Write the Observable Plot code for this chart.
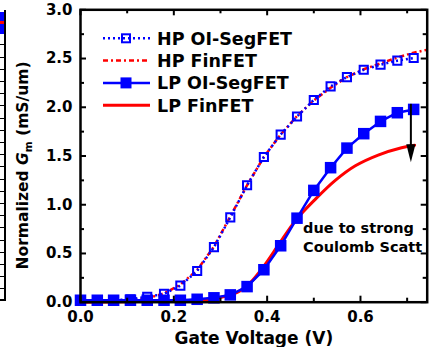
<!DOCTYPE html>
<html><head><meta charset="utf-8">
<script src="https://cdn.jsdelivr.net/npm/d3@7"></script>
<script src="https://cdn.jsdelivr.net/npm/@observablehq/plot@0.6"></script>
<style>
body{margin:0;background:#fff;}
#wrap{position:relative;width:432px;height:347px;overflow:hidden;background:#fff;}
#wrap svg{position:absolute;left:0;top:0;}
#nb{position:absolute;left:0;top:10px;width:4px;height:289px;border-right:2px solid #000;border-bottom:2px solid #000;
 background:repeating-linear-gradient(to bottom,transparent 0 10px,#000 10px 11px,transparent 11px 12.2px);}
#nbc{position:absolute;left:0;top:12px;width:4px;height:22px;background:linear-gradient(to bottom,#0000ff 0 40%,#ff0000 40% 55%,#0000ff 55% 100%);}
</style></head><body><div id="wrap"><div id="nb"></div><div id="nbc"></div></div>
<script>
// ---- data ----
const gateV = [0, 0.036, 0.071, 0.107, 0.143, 0.179, 0.214, 0.25, 0.286, 0.321, 0.357, 0.393, 0.429, 0.464, 0.5, 0.536, 0.571, 0.607, 0.643, 0.679, 0.714];
const hpSeg = [0.02, 0.02, 0.02, 0.03, 0.055, 0.085, 0.17, 0.32, 0.565, 0.87, 1.20, 1.49, 1.72, 1.905, 2.075, 2.215, 2.31, 2.385, 2.437, 2.478, 2.505];
const hpFinV = [0, 0.036, 0.071, 0.107, 0.143, 0.179, 0.214, 0.25, 0.286, 0.321, 0.357, 0.393, 0.429, 0.464, 0.5, 0.536, 0.571, 0.607, 0.643, 0.679, 0.714, 0.743];
const hpFin = [0.01, 0.01, 0.01, 0.02, 0.04, 0.09, 0.18, 0.33, 0.57, 0.88, 1.20, 1.49, 1.72, 1.91, 2.07, 2.20, 2.31, 2.39, 2.45, 2.51, 2.56, 2.59];
const lpSeg = [0.02, 0.02, 0.02, 0.02, 0.02, 0.02, 0.02, 0.03, 0.045, 0.075, 0.16, 0.333, 0.579, 0.862, 1.147, 1.38, 1.581, 1.729, 1.855, 1.944, 1.978];
const lpFinV = [0, 0.1, 0.2, 0.25, 0.286, 0.336, 0.364, 0.393, 0.426, 0.461, 0.504, 0.546, 0.589, 0.638, 0.688, 0.716];
const lpFin = [0, 0.005, 0.01, 0.015, 0.035, 0.10, 0.20, 0.37, 0.60, 0.84, 1.06, 1.25, 1.40, 1.51, 1.585, 1.61];

const legendLabels = ["HP OI-SegFET", "HP FinFET", "LP OI-SegFET", "LP FinFET"];
const xMajor = [0, 0.2, 0.4, 0.6];
const xMinor = [0.1, 0.3, 0.5, 0.7];
const yMajor = [0, 0.5, 1.0, 1.5, 2.0, 2.5, 3.0];
const yMinor = [0.25, 0.75, 1.25, 1.75, 2.25, 2.75];
const arrowV = [0.708];
const arrowFrom = [2.035];
const arrowTo = [1.436];
const noteLines = ["due to strong", "Coulomb Scatt"];
const noteV = [0.477, 0.477];
const noteG = [0.753, 0.565];

const blue = "#0000ff", red = "#ff0000";
const font = "DejaVu Sans";
const W = 432, H = 347, mL = 80, mR = 5.3, mT = 9.3, mB = 45.3;
const pW = W - mL - mR, pH = H - mT - mB;

const rows = (xs, ys) => xs.map((x, i) => ({x, y: ys[i]}));
const tickOpts = (len, side) => {
  const o = {stroke: "#000", strokeWidth: 2};
  if (side === "bottom") o.insetTop = pH - len;
  if (side === "top") o.insetBottom = pH - len;
  if (side === "left") o.insetRight = pW - len;
  if (side === "right") o.insetLeft = pW - len;
  return o;
};
// narrow filled arrow head, tip at the anchor point
const headSymbol = {draw(ctx) { ctx.moveTo(-4.6, -18); ctx.lineTo(4.6, -18); ctx.lineTo(0, 0); ctx.closePath(); }};

const chart = Plot.plot({
  width: W, height: H,
  marginLeft: mL, marginRight: mR, marginTop: mT, marginBottom: mB,
  style: {fontFamily: font, fontWeight: "bold", fontSize: "15px", background: "transparent"},
  x: {domain: [0, 0.743]},
  y: {domain: [0, 3]},
  marks: [
    Plot.line(rows(hpFinV, hpFin), {x: "x", y: "y", stroke: red, strokeWidth: 2.5, strokeDasharray: "5,3,2,3", strokeLinecap: "butt"}),
    Plot.line(rows(gateV, hpSeg), {x: "x", y: "y", stroke: blue, strokeWidth: 2.5, strokeDasharray: "2,3", strokeLinecap: "butt"}),
    Plot.dot(rows(gateV, hpSeg), {x: "x", y: "y", symbol: "square", r: 4.6, stroke: blue, strokeWidth: 2, fill: "none"}),
    Plot.line(rows(lpFinV, lpFin), {x: "x", y: "y", stroke: red, strokeWidth: 3, curve: "catmull-rom"}),
    Plot.line(rows(gateV, lpSeg), {x: "x", y: "y", stroke: blue, strokeWidth: 2.5}),
    Plot.dot(rows(gateV, lpSeg), {x: "x", y: "y", symbol: "square", r: 6.5, fill: blue, stroke: "none"}),
    Plot.link(arrowV.map((v, i) => ({x: v, y1: arrowFrom[i], y2: arrowTo[i] + 0.1})), {x1: "x", x2: "x", y1: "y1", y2: "y2", stroke: "#000", strokeWidth: 2}),
    Plot.dot(arrowV.map((v, i) => ({x: v, y: arrowTo[i]})), {x: "x", y: "y", symbol: headSymbol, r: 5, fill: "#000", stroke: "none"}),
    Plot.text(noteLines.map((t, i) => ({t, x: noteV[i], y: noteG[i]})), {x: "x", y: "y", text: "t", textAnchor: "start", fontSize: 14.5, fontWeight: "bold", fill: "#000"}),
    Plot.frame({stroke: "#000", strokeWidth: 2.5}),
    Plot.tickX(xMajor, {x: d => d, ...tickOpts(6, "bottom")}),
    Plot.tickX(xMinor, {x: d => d, ...tickOpts(4, "bottom")}),
    Plot.tickX(xMajor, {x: d => d, ...tickOpts(6, "top")}),
    Plot.tickX(xMinor, {x: d => d, ...tickOpts(4, "top")}),
    Plot.tickY(yMajor, {y: d => d, ...tickOpts(6, "left")}),
    Plot.tickY(yMinor, {y: d => d, ...tickOpts(4, "left")}),
    Plot.tickY(yMajor, {y: d => d, ...tickOpts(6, "right")}),
    Plot.tickY(yMinor, {y: d => d, ...tickOpts(4, "right")}),
    Plot.axisX(xMajor, {tickSize: 0, tickPadding: 9, tickFormat: d3.format(".1f"), fontSize: 15, fontWeight: "bold", label: null}),
    Plot.axisY(yMajor, {tickSize: 0, tickPadding: 8, tickFormat: d3.format(".1f"), fontSize: 15, fontWeight: "bold", label: null}),
    Plot.text(["Gate Voltage (V)"], {frameAnchor: "bottom", lineAnchor: "middle", dy: 36.5, fontSize: 17, fontWeight: "bold", fill: "#000"})
  ]
});
document.getElementById("wrap").appendChild(chart);

// y axis title with italic G and subscript m
const svg = d3.select(chart);
const yt = svg.append("text")
  .attr("transform", "translate(28,165.5) rotate(-90)")
  .attr("text-anchor", "middle")
  .attr("font-family", font).attr("font-weight", "bold").attr("font-size", 15.5).attr("fill", "#000");
yt.append("tspan").text("Normalized ");
yt.append("tspan").attr("font-style", "italic").text("G");
yt.append("tspan").attr("font-size", 10.5).attr("dy", 4).text("m");
yt.append("tspan").attr("dy", -4).text(" (mS/um)");

// legend overlay
const legendColors = [blue, red, blue, red];
const legendDash = ["2,3", "5,3,2,3", null, null];
const legendWidth = [2.5, 2.5, 2.5, 3];
const legendMarker = ["open", "none", "filled", "none"];
const lg = d3.select("#wrap").append("svg").attr("width", W).attr("height", H);
legendLabels.forEach((lab, i) => {
  const yy = 38.3 + i * 22.3;
  lg.append("line").attr("x1", 103).attr("x2", 150).attr("y1", yy).attr("y2", yy)
    .attr("stroke", legendColors[i]).attr("stroke-width", legendWidth[i])
    .attr("stroke-dasharray", legendDash[i]);
  if (legendMarker[i] === "open")
    lg.append("rect").attr("x", 122).attr("y", yy - 4).attr("width", 8).attr("height", 8)
      .attr("fill", "none").attr("stroke", blue).attr("stroke-width", 2);
  if (legendMarker[i] === "filled")
    lg.append("rect").attr("x", 120.5).attr("y", yy - 5.5).attr("width", 11).attr("height", 11).attr("fill", blue);
  lg.append("text").attr("x", 157).attr("y", yy).attr("dy", "0.36em")
    .attr("font-family", font).attr("font-weight", "bold").attr("font-size", 17.5).attr("fill", "#000").text(lab);
});
</script>
</body></html>
